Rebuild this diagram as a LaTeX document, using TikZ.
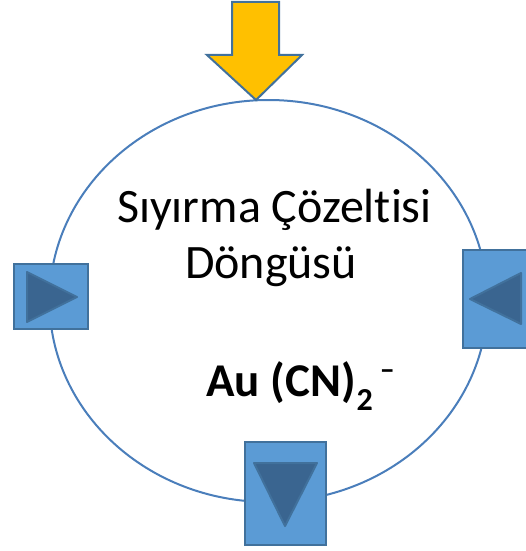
\documentclass[tikz,border=0pt]{standalone}
\usepackage{fontspec}
\setmainfont{Carlito}[Ligatures=NoCommon]
\usetikzlibrary{shapes.geometric}
\definecolor{ringblue}{HTML}{4A7EBB}
\definecolor{boxfill}{HTML}{5B9BD5}
\definecolor{boxline}{HTML}{41719C}
\definecolor{tridark}{HTML}{3A6590}
\definecolor{feedyellow}{HTML}{FFC000}
\begin{document}
\begin{tikzpicture}
        [x=1pt,y=-1pt,
         box/.style ={draw=boxline,fill=boxfill,line width=2pt,inner sep=0pt},
         tri/.style ={draw=boxline,fill=tridark,line width=2pt,line join=round},
         big/.style ={font=\fontsize{48}{56}\selectfont,anchor=base,inner sep=0pt}]
        \useasboundingbox (0,0) rectangle (525,551);
        \node[ellipse,draw=ringblue,line width=2pt,minimum width=438pt,minimum height=402pt] (ring) at (268.5,301) {};
        \draw[draw=boxline,fill=feedyellow,line width=2pt] (232,2) -- (279,2) -- (279,55) -- (302,55) -- (256,100) -- (207,55) -- (232,55) -- cycle;
        \node[big] (line1) at (274.5,222) {Sıyırma Çözeltisi};
        \node[big] (line2) at (271,278) {Döngüsü};
        \node[font=\bfseries\fontsize{47}{50}\selectfont,anchor=base west,inner sep=0pt] (ion) at (206,396) {Au (CN)\hspace{1pt}\raisebox{-14pt}{\fontsize{32}{34}\selectfont 2}\hspace{7pt}\raisebox{17pt}{\fontsize{30}{30}\selectfont –}};
        \node[box,minimum width=74pt,minimum height=65pt] (lbox) at (51,296.5) {};
        \draw[tri] (27,272) -- (77,297) -- (27,322) -- cycle;
        \node[box,minimum width=72pt,minimum height=98pt] (rbox) at (499,299) {};
        \draw[tri] (470,299) -- (521,273) -- (521,324) -- cycle;
        \node[box,minimum width=81pt,minimum height=103pt] (bbox) at (285.5,493.5) {};
        \draw[tri] (254,463) -- (317,463) -- (285,526) -- cycle;
\end{tikzpicture}
\end{document}
